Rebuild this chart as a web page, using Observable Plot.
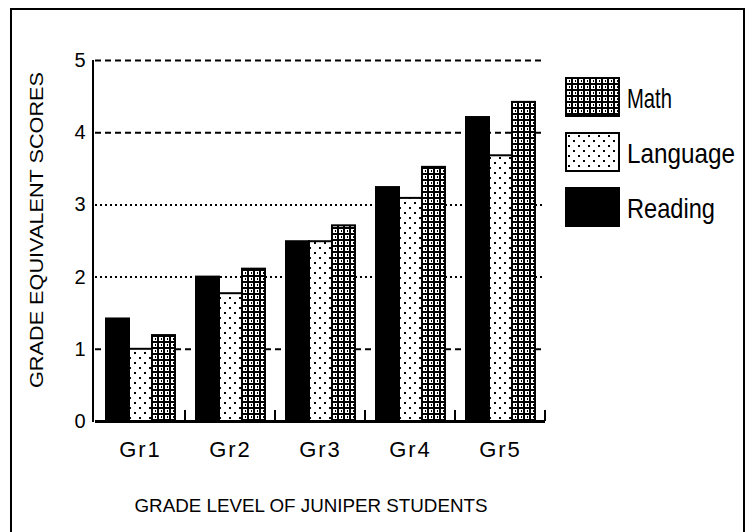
<!DOCTYPE html>
<html><head><meta charset="utf-8">
<script src="https://cdn.jsdelivr.net/npm/d3@7"></script>
<script src="https://cdn.jsdelivr.net/npm/@observablehq/plot@0.6"></script>
<style>
body{margin:0;background:#fff}
#chart{position:relative;width:751px;height:532px;overflow:hidden;background:#fff}
</style>
</head><body>
<svg width="0" height="0" style="position:absolute">
  <defs>
    <pattern id="pat-language" width="10" height="10" patternUnits="userSpaceOnUse">
      <rect width="10" height="10" fill="white"/>
      <rect x="2" y="2" width="2" height="2" fill="black"/>
      <rect x="7" y="7" width="2" height="2" fill="black"/>
    </pattern>
    <pattern id="pat-math" width="6" height="6" patternUnits="userSpaceOnUse">
      <rect width="6" height="6" fill="black"/>
      <rect x="1" y="1" width="4" height="4" fill="white"/>
      <rect x="3" y="2" width="1" height="2" fill="black"/>
    </pattern>
  </defs>
</svg>
<div id="chart"></div>
<script>
// ---- data ----
const grades = ["Gr1", "Gr2", "Gr3", "Gr4", "Gr5"];
const series = ["Reading", "Language", "Math"];
const reading  = [1.42, 2.00, 2.49, 3.24, 4.21];
const language = [1.00, 1.77, 2.49, 3.09, 3.68];
const math     = [1.19, 2.11, 2.71, 3.52, 4.42];
const yTicks = [0, 1, 2, 3, 4, 5];
const dashedLines = [1, 4, 5];
const dottedLines = [2, 3];
const legendOrder = ["Math", "Language", "Reading"];
const yTitle = "GRADE EQUIVALENT SCORES";
const xTitle = "GRADE LEVEL OF JUNIPER STUDENTS";

// ---- build table ----
const valuesBySeries = {Reading: reading, Language: language, Math: math};
const fills = {Reading: "black", Language: "url(#pat-language)", Math: "url(#pat-math)"};
const data = grades.flatMap((g, i) => series.map(s => ({grade: g, series: s, value: valuesBySeries[s][i]})));

const W = 751, H = 532;
const plot = Plot.plot({
  width: W, height: H,
  marginLeft: 93, marginRight: 204, marginTop: 60, marginBottom: 111,
  style: {fontFamily: "'Liberation Sans', Arial, sans-serif", background: "white", color: "black"},
  fx: {domain: grades, padding: 0, label: null},
  x: {domain: series, paddingInner: 0, paddingOuter: 0.4, axis: null},
  y: {domain: [0, 5], axis: null},
  color: {type: "identity"},
  marks: [
    Plot.ruleY(dashedLines, {stroke: "black", strokeWidth: 2, strokeDasharray: "6,4"}),
    Plot.ruleY(dottedLines, {stroke: "black", strokeWidth: 2, strokeDasharray: "2,3"}),
    Plot.barY(data, {fx: "grade", x: "series", y: "value", fill: d => fills[d.series], stroke: "black", strokeWidth: 2}),
    Plot.ruleY([0], {stroke: "black", strokeWidth: 3}),
    Plot.axisY(yTicks, {tickSize: 0, tickPadding: 10, fontSize: 20, label: null, tickFormat: d3.format("d")}),
    Plot.axisFx({anchor: "bottom", tickSize: 0, tickPadding: 20, fontSize: 22, label: null})
  ]
});
document.getElementById("chart").appendChild(plot);

// ---- extra decorations ----
const svg = d3.select(plot);
const y = plot.scale("y");
const fx = plot.scale("fx");
const left = 93;
svg.selectAll("g[aria-label='fx-axis tick label']").style("letter-spacing", "2px");

// y axis line
svg.append("line").attr("x1", left).attr("x2", left)
  .attr("y1", y.apply(5)).attr("y2", y.apply(0) + 1)
  .attr("stroke", "black").attr("stroke-width", 2);

// boundary ticks between groups
svg.append("g").selectAll("line").data(grades).join("line")
  .attr("x1", g => fx.apply(g) + fx.bandwidth)
  .attr("x2", g => fx.apply(g) + fx.bandwidth)
  .attr("y1", y.apply(0)).attr("y2", y.apply(0) - 11)
  .attr("stroke", "black").attr("stroke-width", 2);

// titles
svg.append("text")
  .attr("transform", `translate(37,230) rotate(-90)`)
  .attr("text-anchor", "middle").attr("dy", "0.35em")
  .attr("font-size", 18).attr("fill", "black")
  .attr("textLength", 316).attr("lengthAdjust", "spacingAndGlyphs")
  .text(yTitle);
svg.append("text")
  .attr("x", 311).attr("y", 512)
  .attr("text-anchor", "middle")
  .attr("font-size", 18).attr("fill", "black")
  .attr("textLength", 353).attr("lengthAdjust", "spacingAndGlyphs")
  .text(xTitle);

// legend
const legendTextLen = {Math: 45, Language: 108, Reading: 88};
const lg = svg.append("g");
const item = lg.selectAll("g").data(legendOrder).join("g")
  .attr("transform", (d, i) => `translate(566,${78 + i * 55})`);
item.append("rect").attr("width", 53).attr("height", 38)
  .attr("fill", d => fills[d]).attr("stroke", "black").attr("stroke-width", 2);
item.append("text").attr("x", 61).attr("y", 30)
  .attr("text-anchor", "start")
  .attr("font-size", 28).attr("fill", "black")
  .attr("textLength", d => legendTextLen[d]).attr("lengthAdjust", "spacingAndGlyphs")
  .text(d => d);

// outer frame
svg.append("rect").attr("x", 11).attr("y", 9).attr("width", 733).attr("height", 560)
  .attr("fill", "none").attr("stroke", "black").attr("stroke-width", 2);
</script>
</body></html>
